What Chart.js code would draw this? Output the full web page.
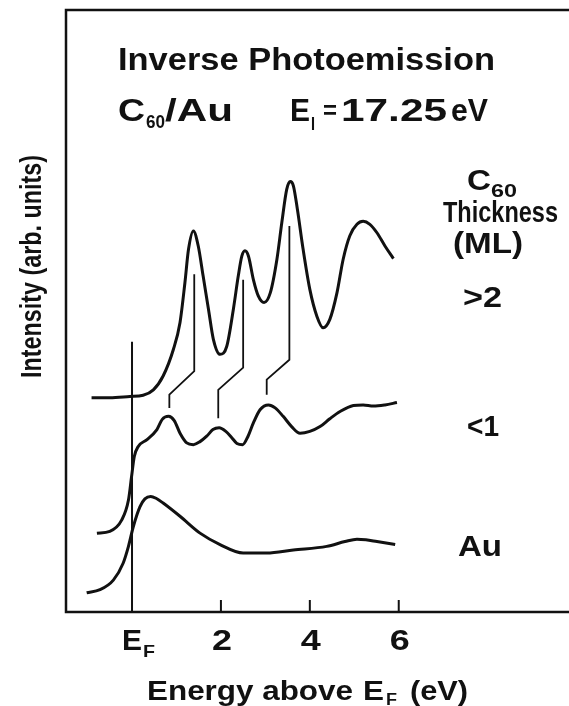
<!DOCTYPE html>
<html>
<head>
<meta charset="utf-8">
<script src="https://cdn.jsdelivr.net/npm/chart.js@4/dist/chart.umd.min.js"></script>
<style>
html,body{margin:0;padding:0;background:#fff;}
canvas{display:block;}
</style>
</head>
<body>
<canvas id="c" width="569" height="706"></canvas>
<script>
// ---- data (energy above E_F in eV, intensity in arbitrary units) ----
const thickE = [-0.91,-0.50,-0.05,0.25,0.48,0.70,0.93,1.08,1.19,1.27,1.38,1.49,1.60,1.72,1.83,1.98,2.13,2.28,2.39,2.47,2.54,2.62,2.73,2.84,2.97,3.11,3.26,3.37,3.48,3.56,3.63,3.72,3.85,4.00,4.16,4.30,4.45,4.61,4.75,4.90,5.06,5.20,5.35,5.51,5.69,5.88];
const thickI = [35.6,35.6,35.8,36.0,36.9,39.2,43.6,48.1,54.7,60.2,63.3,60.8,55.8,50.3,45.3,42.8,44.1,50.3,55.8,59.1,60.0,59.1,55.2,52.5,51.4,53.0,58.6,64.7,70.2,71.5,70.8,66.9,60.2,53.6,49.1,47.2,48.6,53.0,58.6,62.5,64.4,64.9,64.4,63.0,60.8,58.7];

const thinE = [-0.79,-0.50,-0.23,-0.08,-0.01,0.05,0.14,0.33,0.56,0.68,0.82,0.95,1.08,1.23,1.38,1.53,1.68,1.82,1.96,2.11,2.24,2.36,2.49,2.61,2.73,2.88,3.07,3.22,3.40,3.59,3.78,4.00,4.23,4.45,4.68,4.98,5.20,5.43,5.69,5.96];
const thinI = [13.1,13.4,15.3,18.6,22.5,25.8,27.5,28.6,30.3,32.0,32.5,31.8,29.7,28.1,27.8,28.3,29.2,30.3,30.6,30.0,29.0,28.0,27.8,29.2,31.4,33.6,34.4,33.9,32.5,30.8,29.7,30.0,30.8,32.1,33.3,34.3,34.4,34.2,34.4,34.8];

const auE = [-1.02,-0.72,-0.42,-0.20,-0.08,0.03,0.18,0.29,0.42,0.54,0.70,1.08,1.53,1.98,2.50,3.03,3.63,4.38,4.79,5.06,5.26,5.51,5.92];
const auI = [3.2,3.7,5.3,8.1,10.9,14.2,17.5,18.8,19.2,18.9,18.1,15.9,13.1,11.2,9.8,9.8,10.3,10.9,11.7,12.1,12.0,11.7,11.2];

// guide lines linking the C60 features of the two spectra
const guide1E = [0.84,0.84,1.40,1.40];
const guide1I = [33.9,36.1,40.0,56.1];
const guide2E = [1.94,1.94,2.50,2.50];
const guide2I = [32.2,36.9,40.6,55.2];
const guide3E = [3.03,3.03,3.54,3.54];
const guide3I = [36.1,38.6,41.9,64.1];

// Fermi-level marker
const efE = [0,0];
const efI = [0,44.9];

const tickValues = [0,2,4,6];
const tickLabels = ['E_F','2','4','6'];
const seriesLabels = ['>2','<1','Au'];

function pts(xs, ys){ return xs.map((x,i)=>({x:x,y:ys[i]})); }

const FONT = '"Liberation Sans", Arial, sans-serif';
function txt(ctx, s, x, y, size, w, align){
  ctx.save();
  ctx.font = 'bold ' + size + 'px ' + FONT;
  ctx.textBaseline = 'alphabetic';
  ctx.textAlign = 'left';
  const m = ctx.measureText(s).width;
  const sx = w ? w / m : 1;
  const ww = m * sx;
  let left = x;
  if (align === 'center') left = x - ww/2;
  ctx.translate(left, y);
  ctx.scale(sx, 1);
  ctx.fillStyle = '#111';
  ctx.fillText(s, 0, 0);
  ctx.restore();
}

const decor = {
  id: 'decor',
  afterDatasetsDraw(chart){
    const ctx = chart.ctx;
    const a = chart.chartArea;
    const xs = chart.scales.x;
    ctx.save();
    ctx.strokeStyle = '#111';
    ctx.lineWidth = 2.5;
    ctx.lineCap = 'butt';
    ctx.beginPath();
    ctx.moveTo(a.right, a.top); ctx.lineTo(a.left, a.top);
    ctx.lineTo(a.left, a.bottom); ctx.lineTo(a.right, a.bottom);
    ctx.stroke();
    // small ticks
    ctx.lineWidth = 2;
    tickValues.forEach(v=>{
      if (v === 0) return;
      const px = xs.getPixelForValue(v);
      ctx.beginPath(); ctx.moveTo(px, a.bottom); ctx.lineTo(px, a.bottom - 12); ctx.stroke();
    });
    ctx.restore();

    // tick labels
    tickLabels.forEach((t,i)=>{
      const px = xs.getPixelForValue(tickValues[i]);
      if (t === 'E_F'){
        txt(ctx,'E', px-10, 650, 30, 20);
        txt(ctx,'F', px+11, 657, 17, 12);
      } else {
        txt(ctx, t, px+1, 650, 30, 20, 'center');
      }
    });

    // axis titles
    txt(ctx,'Energy above', 147, 700, 28, 206);
    txt(ctx,'E', 363, 700, 28, 21);
    txt(ctx,'F', 386, 705, 16, 11);
    txt(ctx,'(eV)', 410, 700, 28, 58);

    ctx.save();
    ctx.translate(41, 378);
    ctx.rotate(-Math.PI/2);
    txt(ctx,'Intensity (arb. units)', 0, 0, 29, 223);
    ctx.restore();

    // header texts
    txt(ctx,'Inverse Photoemission', 118, 70, 32, 377);
    txt(ctx,'C', 118, 121, 31, 27);
    txt(ctx,'60', 146, 128, 19, 19);
    txt(ctx,'/Au', 165, 121, 31, 68);
    txt(ctx,'E', 290, 121, 31, 20);
    txt(ctx,'I', 311, 130, 18, 4);
    txt(ctx,'=', 323, 119, 26, 14);
    txt(ctx,'17.25', 341, 121, 31, 106);
    txt(ctx,'eV', 451, 121, 31, 37);

    // right-hand legend texts
    txt(ctx,'C', 467, 190, 29, 24);
    txt(ctx,'60', 491, 197, 18, 26);
    txt(ctx,'Thickness', 443, 222, 29, 115);
    txt(ctx,'(ML)', 453, 253, 29, 70);
    txt(ctx, seriesLabels[0], 463, 307, 30, 39);
    txt(ctx, seriesLabels[1], 467, 436, 30, 32);
    txt(ctx, seriesLabels[2], 458, 556, 30, 44);
  }
};

const curve = (d)=>({data:d, showLine:true, borderColor:'#111', borderWidth:3, pointRadius:0, tension:0.4, cubicInterpolationMode:'monotone', fill:false});
const guide = (d)=>({data:d, showLine:true, borderColor:'#111', borderWidth:1.8, pointRadius:0, tension:0, fill:false});

new Chart(document.getElementById('c'), {
  type: 'scatter',
  data: {
    datasets: [
      curve(pts(thickE, thickI)),
      curve(pts(thinE, thinI)),
      curve(pts(auE, auI)),
      guide(pts(guide1E, guide1I)),
      guide(pts(guide2E, guide2I)),
      guide(pts(guide3E, guide3I)),
      {data: pts(efE, efI), showLine:true, borderColor:'#111', borderWidth:2, pointRadius:0, tension:0}
    ]
  },
  options: {
    responsive: false,
    animation: false,
    devicePixelRatio: 1,
    layout: { padding: { left: 66, top: 10, right: 0, bottom: 94 } },
    plugins: { legend: {display:false}, tooltip: {enabled:false}, title:{display:false} },
    scales: {
      x: { type:'linear', min:-1.485, max:9.83, display:false },
      y: { type:'linear', min:0, max:100, display:false }
    }
  },
  plugins: [decor]
});
</script>
</body>
</html>
